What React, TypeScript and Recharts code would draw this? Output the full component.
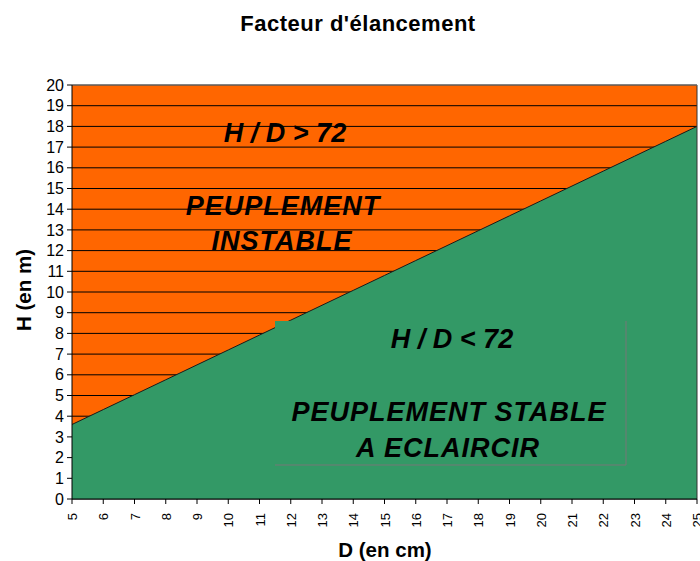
import React from 'react';
import { ComposedChart, Area, XAxis, YAxis, CartesianGrid, ReferenceLine } from 'recharts';

const diameters = [5, 6, 7, 8, 9, 10, 11, 12, 13, 14, 15, 16, 17, 18, 19, 20, 21, 22, 23, 24, 25];
const heights = [3.6, 4.32, 5.04, 5.76, 6.48, 7.2, 7.92, 8.64, 9.36, 10.08, 10.8, 11.52, 12.24, 12.96, 13.68, 14.4, 15.12, 15.84, 16.56, 17.28, 18];
const xTicks = diameters;
const yTicks = [0, 1, 2, 3, 4, 5, 6, 7, 8, 9, 10, 11, 12, 13, 14, 15, 16, 17, 18, 19, 20];

const data = diameters.map((d, i) => ({ d, h: heights[i] }));

const FONT = 'Liberation Sans, Arial, sans-serif';

const XTick = (props: any) => {
  const { x, y, payload } = props;
  return (
    <text
      x={x}
      y={y}
      transform={`rotate(-90 ${x} ${y})`}
      dx={-7}
      dy={5}
      textAnchor="end"
      fontSize={13}
      fontFamily={FONT}
      fill="#000"
    >
      {payload.value}
    </text>
  );
};

const labelStyle: React.CSSProperties = {
  fontFamily: FONT,
  fontWeight: 'bold',
  fontStyle: 'italic',
};

export default function App() {
  return (
    <div style={{ position: 'absolute', left: 0, top: 0, width: 700, height: 561, background: '#fff' }}>
      <ComposedChart
        width={700}
        height={561}
        data={data}
        margin={{ top: 85, right: 3, bottom: 0, left: 42 }}
      >
        <CartesianGrid
          vertical={false}
          horizontal={true}
          stroke="#000"
          strokeOpacity={1}
          fill="#FF6600"
          fillOpacity={1}
        />
        <XAxis
          dataKey="d"
          type="number"
          domain={[5, 25]}
          ticks={xTicks}
          interval={0}
          height={62}
          stroke="#000"
          tickSize={5}
          tickMargin={2}
          tick={<XTick />}
          allowDataOverflow
        />
        <YAxis
          type="number"
          domain={[0, 20]}
          ticks={yTicks}
          interval={0}
          width={30}
          stroke="#000"
          tickSize={5}
          tickMargin={3}
          tick={{ fontSize: 16, fontFamily: FONT, fill: '#000' }}
        />
        <Area
          type="linear"
          dataKey="h"
          stroke="#1a1a1a"
          strokeWidth={1}
          fill="#339966"
          fillOpacity={1}
          isAnimationActive={false}
          dot={false}
          activeDot={false}
        />
        <ReferenceLine x={25} stroke="#333" strokeWidth={1} />
        <ReferenceLine y={20} stroke="#888" strokeWidth={1} />
      </ComposedChart>
      <svg
        width={700}
        height={561}
        style={{ position: 'absolute', left: 0, top: 0, pointerEvents: 'none' }}
      >
        <text x={358} y={31} textAnchor="middle" fontSize={22} letterSpacing={0.5} fontWeight="bold" fontFamily={FONT} fill="#000">
          Facteur d'élancement
        </text>
        <text
          x={31}
          y={290}
          transform="rotate(-90 31 290)"
          textAnchor="middle"
          fontSize={20.5}
          fontWeight="bold"
          fontFamily={FONT}
          fill="#000"
        >
          H (en m)
        </text>
        <text x={385} y={557} textAnchor="middle" fontSize={20.5} fontWeight="bold" fontFamily={FONT} fill="#000">
          D (en cm)
        </text>
        <text x={285} y={142} textAnchor="middle" fontSize={27} style={labelStyle} fill="#000">
          H / D &gt; 72
        </text>
        <text x={283} y={215} textAnchor="middle" fontSize={27} letterSpacing={1} style={labelStyle} fill="#000">
          PEUPLEMENT
        </text>
        <text x={282} y={250} textAnchor="middle" fontSize={27} letterSpacing={1} style={labelStyle} fill="#000">
          INSTABLE
        </text>
        <rect x={275} y={321} width={351} height={144} fill="#339966" />
        <line x1={626} y1={321} x2={626} y2={465} stroke="#777" strokeWidth={1} />
        <line x1={275} y1={465} x2={626} y2={465} stroke="#777" strokeWidth={1} />
        <text x={452} y={348} textAnchor="middle" fontSize={27} style={labelStyle} fill="#000">
          H / D &lt; 72
        </text>
        <text x={449} y={421} textAnchor="middle" fontSize={27} letterSpacing={1} style={labelStyle} fill="#000">
          PEUPLEMENT STABLE
        </text>
        <text x={448} y={457} textAnchor="middle" fontSize={27} letterSpacing={1} style={labelStyle} fill="#000">
          A ECLAIRCIR
        </text>
      </svg>
    </div>
  );
}
